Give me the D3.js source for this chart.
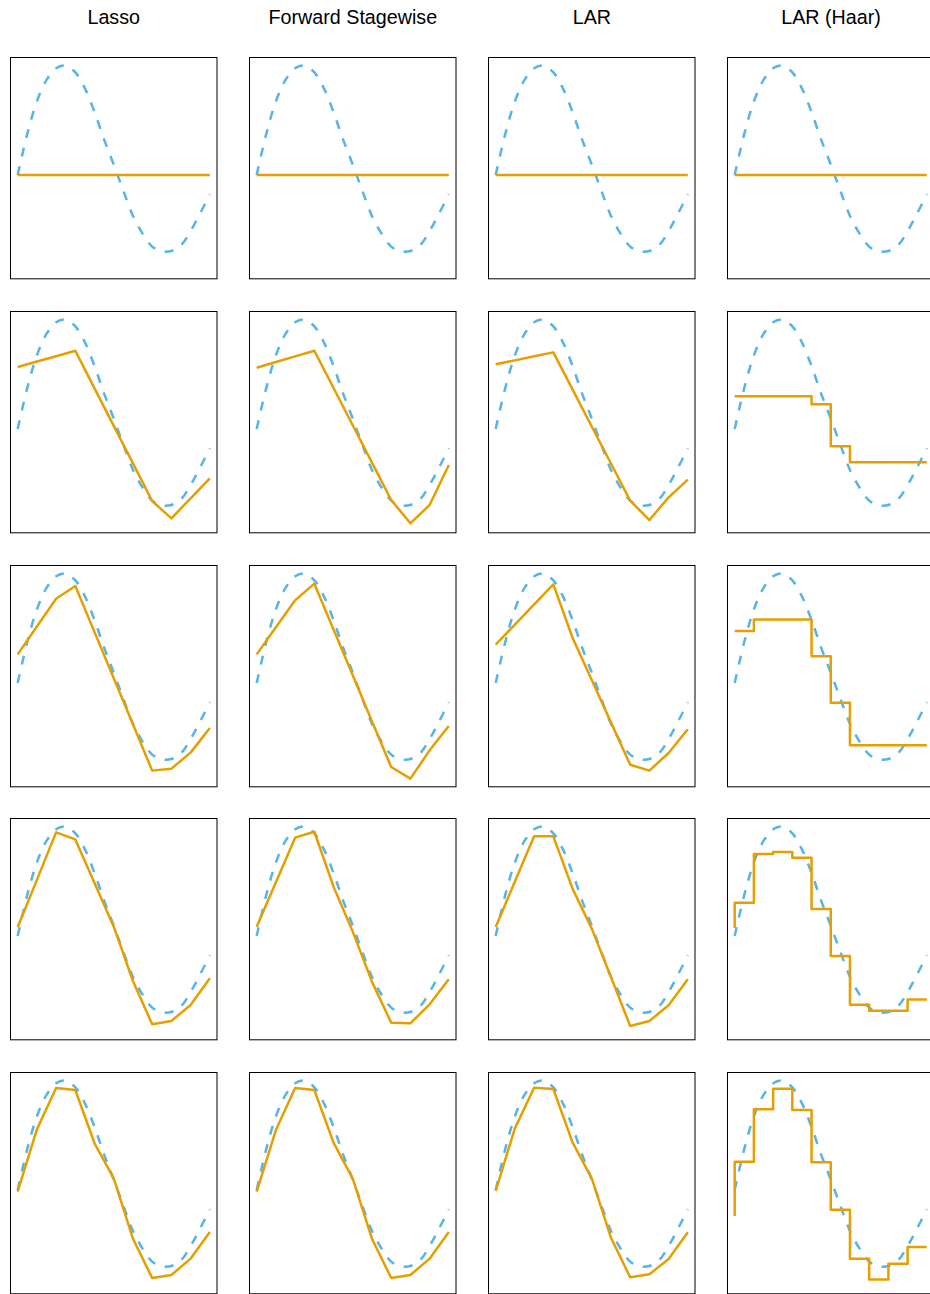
<!DOCTYPE html>
<html>
<head>
<meta charset="utf-8">
<script src="https://cdn.jsdelivr.net/npm/d3@7"></script>
<style>
  body { margin: 0; background: #fff; }
  svg { display: block; }
</style>
</head>
<body>
<svg id="chart"></svg>
<script>
// Column titles
const methods = ["Lasso", "Forward Stagewise", "LAR", "LAR (Haar)"];

// True function (dashed) at x = 0, 0.05, ..., 1
const trueX = [0, 0.05, 0.1, 0.15, 0.2, 0.25, 0.3, 0.35, 0.4, 0.45, 0.5,
               0.55, 0.6, 0.65, 0.7, 0.75, 0.8, 0.85, 0.9, 0.95, 1];
const trueY = [0, 0.375, 0.672, 0.867, 0.973, 0.998, 0.936, 0.79, 0.574, 0.322, 0.095,
               -0.143, -0.373, -0.535, -0.653, -0.696, -0.693, -0.641, -0.511, -0.349, -0.176];

// Knots of the piecewise linear fits
const fitX = [0, 0.1, 0.2, 0.3, 0.4, 0.5, 0.6, 0.7, 0.8, 0.9, 1];

// one row per step (top to bottom)
const lassoFits = [
  [0, 0, 0, 0, 0, 0, 0, 0, 0, 0, 0],
  [0.565, 0.615, 0.664, 0.714, 0.371, 0.029, -0.314, -0.657, -0.815, -0.633, -0.45],
  [0.261, 0.515, 0.769, 0.884, 0.464, 0.043, -0.377, -0.799, -0.781, -0.635, -0.41],
  [0.079, 0.512, 0.945, 0.881, 0.483, 0.085, -0.41, -0.805, -0.775, -0.629, -0.386],
  [-0.015, 0.553, 0.93, 0.912, 0.426, 0.106, -0.444, -0.802, -0.775, -0.626, -0.383]
];
const stagewiseFits = [
  [0, 0, 0, 0, 0, 0, 0, 0, 0, 0, 0],
  [0.559, 0.611, 0.662, 0.714, 0.374, 0.034, -0.307, -0.647, -0.86, -0.693, -0.328],
  [0.261, 0.508, 0.754, 0.906, 0.488, 0.07, -0.348, -0.766, -0.872, -0.614, -0.392],
  [0.085, 0.491, 0.897, 0.951, 0.45, 0.04, -0.416, -0.79, -0.796, -0.623, -0.395],
  [-0.015, 0.547, 0.93, 0.912, 0.432, 0.103, -0.444, -0.802, -0.775, -0.626, -0.383]
];
const larFits = [
  [0, 0, 0, 0, 0, 0, 0, 0, 0, 0, 0],
  [0.59, 0.626, 0.663, 0.699, 0.361, 0.023, -0.315, -0.653, -0.83, -0.623, -0.462],
  [0.35, 0.533, 0.717, 0.9, 0.413, 0.027, -0.359, -0.745, -0.799, -0.638, -0.422],
  [0.082, 0.496, 0.909, 0.909, 0.432, 0.067, -0.374, -0.821, -0.775, -0.632, -0.395],
  [-0.009, 0.562, 0.933, 0.921, 0.435, 0.106, -0.435, -0.796, -0.769, -0.629, -0.386]
];

// Haar fits: value at x = 0, then the level on each tenth of the interval
const haarStart = [0, 0.298, 0.474, 0.073, -0.237];
const haarSteps = [
  [0, 0, 0, 0, 0, 0, 0, 0, 0, 0],
  [0.298, 0.298, 0.298, 0.298, 0.225, -0.158, -0.304, -0.304, -0.304, -0.304],
  [0.474, 0.578, 0.578, 0.578, 0.243, -0.179, -0.568, -0.568, -0.568, -0.568],
  [0.304, 0.748, 0.766, 0.714, 0.246, -0.182, -0.626, -0.681, -0.681, -0.578],
  [0.258, 0.736, 0.924, 0.729, 0.252, -0.179, -0.626, -0.815, -0.672, -0.52]
];

const xLim = [0, 1];
const yLim = [-0.876, 1.001];

// layout
const width = 930;
const height = 1294;
const panel = { left: 10, top: 57, w: 207.5, h: 222.3, dx: 239.1, dy: 253.75 };

const orange = "#E69F00";
const blue = "#56B4E9";

// R style 4% padding around the data range
const pad = ([a, b]) => [a - 0.04 * (b - a), b + 0.04 * (b - a)];

const svg = d3.select("#chart")
    .attr("width", width)
    .attr("height", height)
    .attr("viewBox", [0, 0, width, height]);

const x = d3.scaleLinear().domain(pad(xLim)).range([0, panel.w]);
const y = d3.scaleLinear().domain(pad(yLim)).range([panel.h, 0]);

const line = d3.line()
    .x(d => x(d[0]))
    .y(d => y(d[1]));

const smooth = d3.line()
    .x(d => x(d[0]))
    .y(d => y(d[1]))
    .curve(d3.curveCatmullRom.alpha(0.5));

const steps = d3.line()
    .x(d => x(d[0]))
    .y(d => y(d[1]))
    .curve(d3.curveStepAfter);

// titles
svg.append("g")
    .selectAll("text")
    .data(methods)
    .join("text")
    .attr("x", (d, i) => panel.left + i * panel.dx + panel.w / 2)
    .attr("y", 24)
    .attr("text-anchor", "middle")
    .style("font-family", "'Liberation Sans', Arial, Helvetica, sans-serif")
    .style("font-size", "19.7px")
    .attr("fill", "#000")
    .text(d => d);

const linearFits = [lassoFits, stagewiseFits, larFits];

for (let r = 0; r < 5; r++) {
    for (let c = 0; c < 4; c++) {
        const left = Math.round(panel.left + c * panel.dx);
        const top = Math.round(panel.top + r * panel.dy);

        const g = svg.append("g")
            .attr("transform", `translate(${left},${top})`);

        // true curve
        g.append("path")
            .datum(trueX.map((t, i) => [t, trueY[i]]))
            .attr("d", smooth)
            .attr("fill", "none")
            .attr("stroke", blue)
            .attr("stroke-width", 2.5)
            .attr("stroke-dasharray", "9,10");

        // fitted curve
        let pts, gen;
        if (c < 3) {
            pts = fitX.map((t, i) => [t, linearFits[c][r][i]]);
            gen = line;
        } else {
            const s = haarSteps[r];
            pts = [[fitX[0], haarStart[r]]]
                .concat(s.map((v, i) => [fitX[i], v]))
                .concat([[fitX[10], s[9]]]);
            gen = steps;
        }
        g.append("path")
            .datum(pts)
            .attr("d", gen)
            .attr("fill", "none")
            .attr("stroke", orange)
            .attr("stroke-width", 2.5)
            .attr("stroke-linejoin", "round");

        // frame
        g.append("rect")
            .attr("x", 0.5)
            .attr("y", 0.5)
            .attr("width", panel.w - 1)
            .attr("height", panel.h - 1)
            .attr("fill", "none")
            .attr("stroke", "#000")
            .attr("stroke-width", 1);
    }
}
</script>
</body>
</html>
